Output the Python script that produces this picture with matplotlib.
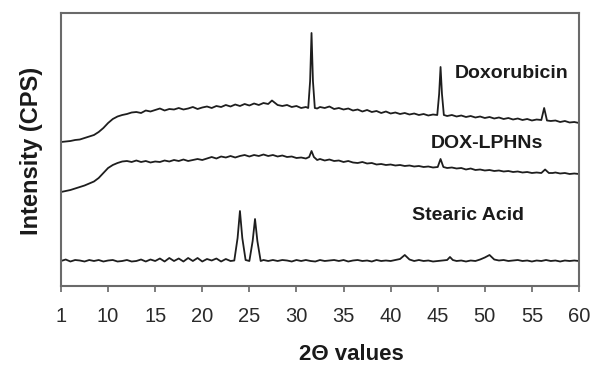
import matplotlib
matplotlib.use("Agg")
import matplotlib.pyplot as plt

# x positions (axis units; the first tick, labelled "1", sits at 5)
tick_pos = [5, 10, 15, 20, 25, 30, 35, 40, 45, 50, 55, 60]
tick_labels = ["1", "10", "15", "20", "25", "30", "35", "40", "45", "50", "55", "60"]

dox_x = [5.0, 5.5, 6.0, 6.5, 7.0, 7.5, 8.0, 8.5, 9.0, 9.5, 10.0, 10.5, 11.0, 11.5,
         12.0, 12.5, 13.0, 13.5, 14.0, 14.5, 15.0, 15.5, 16.0, 16.5, 17.0, 17.5,
         18.0, 18.5, 19.0, 19.5, 20.0, 20.5, 21.0, 21.5, 22.0, 22.5, 23.0, 23.5,
         24.0, 24.5, 25.0, 25.5, 26.0, 26.5, 27.0, 27.4, 27.8, 28.0, 28.5, 29.0,
         29.5, 30.0, 30.5, 31.0, 31.25, 31.45, 31.6, 31.75, 31.95, 32.2, 32.5, 33.0,
         33.5, 34.0, 34.5, 35.0, 35.5, 36.0, 36.5, 37.0, 37.5, 38.0, 38.5, 39.0,
         39.5, 40.0, 40.5, 41.0, 41.5, 42.0, 42.5, 43.0, 43.5, 44.0, 44.5, 44.95,
         45.15, 45.3, 45.45, 45.65, 46.0, 46.5, 47.0, 47.5, 48.0, 48.5, 49.0, 49.5,
         50.0, 50.5, 51.0, 51.5, 52.0, 52.5, 53.0, 53.5, 54.0, 54.5, 55.0, 55.5,
         56.0, 56.3, 56.6, 57.0, 57.5, 58.0, 58.5, 59.0, 59.5, 60.0]
dox_y = [144, 144.5, 145, 146, 146.5, 148, 149.5, 151, 154, 158, 163, 167, 169.5, 171,
         172, 173.5, 174, 173, 175.5, 174.5, 176, 177.5, 175.5, 177, 176.5, 178,
         176.5, 177.5, 179, 177, 178.5, 179.5, 178, 180, 179, 181, 179.5, 181.5,
         180, 182, 180.5, 182.5, 181, 183, 182, 185.5, 182.5, 181, 180, 181,
         179, 180, 178, 179, 178, 205, 253, 205, 178, 177.5, 179, 178,
         179.5, 177, 178, 176.5, 177.5, 175.5, 176.5, 174.5, 176, 174, 175, 173,
         174.5, 172.5, 173.5, 172, 173, 171.5, 172.5, 171, 172, 170.5, 171.5, 171,
         192, 219, 192, 171, 170, 171, 169.5, 170.5, 169, 170, 168.5, 169.5,
         168, 169, 167.5, 168.5, 167, 168, 166.5, 167.5, 166, 167, 165.5, 166.5,
         166, 178, 165.5, 165, 165.5, 164, 165, 163.5, 164, 163]

lphn_x = [5.0, 5.5, 6.0, 6.5, 7.0, 7.5, 8.0, 8.5, 9.0, 9.5, 10.0, 10.5, 11.0, 11.5,
          12.0, 12.5, 13.0, 13.5, 14.0, 14.5, 15.0, 15.5, 16.0, 16.5, 17.0, 17.5,
          18.0, 18.5, 19.0, 19.5, 20.0, 20.5, 21.0, 21.5, 22.0, 22.5, 23.0, 23.5,
          24.0, 24.5, 25.0, 25.5, 26.0, 26.5, 27.0, 27.5, 28.0, 28.5, 29.0, 29.5,
          30.0, 30.5, 31.0, 31.35, 31.6, 31.85, 32.2, 32.5, 33.0, 33.5, 34.0, 34.5,
          35.0, 35.5, 36.0, 36.5, 37.0, 37.5, 38.0, 38.5, 39.0, 39.5, 40.0, 40.5,
          41.0, 41.5, 42.0, 42.5, 43.0, 43.5, 44.0, 44.5, 45.0, 45.3, 45.6, 46.0,
          46.5, 47.0, 47.5, 48.0, 48.5, 49.0, 49.5, 50.0, 50.5, 51.0, 51.5, 52.0,
          52.5, 53.0, 53.5, 54.0, 54.5, 55.0, 55.5, 56.0, 56.4, 56.8, 57.2, 57.5,
          58.0, 58.5, 59.0, 59.5, 60.0]
lphn_y = [94, 95, 96, 97.5, 99, 100.5, 102.5, 104.5, 108, 113, 118, 121, 123, 124.5,
          125, 124, 125.5, 124, 125, 123.5, 124.5, 124, 125.5, 124.5, 126, 125,
          126.5, 125, 126, 127, 126, 127.5, 129, 127.5, 129.5, 128.5, 130, 128.5,
          130, 131, 129.5, 131, 130, 131.5, 130, 131, 129.5, 130.5, 129, 129.5,
          128, 128.5, 127.5, 129, 135, 129, 126, 127, 125.5, 126.5, 125, 125.5,
          124, 125, 123.5, 123, 124, 122.5, 123, 121.5, 122, 121, 121.5, 120.5,
          121, 120, 120.5, 119.5, 120, 119, 119.5, 118.5, 119, 127, 119, 118,
          118.5, 117.5, 118, 116.5, 117.5, 116, 116.5, 115.5, 116, 115, 115.5, 114.5,
          115, 114, 114.5, 113.5, 114, 113, 113.5, 113, 116.5, 113, 113, 113.5,
          112.5, 113, 112, 112.5, 112]

sa_x = [5.0, 5.5, 6.0, 6.5, 7.0, 7.5, 8.0, 8.5, 9.0, 9.5, 10.0, 10.5, 11.0, 11.5,
        12.0, 12.5, 13.0, 13.5, 14.0, 14.5, 15.0, 15.5, 16.0, 16.5, 17.0, 17.5,
        18.0, 18.5, 19.0, 19.5, 20.0, 20.5, 21.0, 21.5, 22.0, 22.5, 23.0, 23.4,
        23.75, 24.0, 24.25, 24.6, 25.0, 25.35, 25.6, 25.85, 26.2, 26.5, 27.0, 27.5,
        28.0, 28.5, 29.0, 29.5, 30.0, 30.5, 31.0, 31.5, 32.0, 32.5, 33.0, 33.5,
        34.0, 34.5, 35.0, 35.5, 36.0, 36.5, 37.0, 37.5, 38.0, 38.5, 39.0, 39.5,
        40.0, 40.5, 41.0, 41.5, 42.0, 42.5, 43.0, 43.5, 44.0, 44.5, 45.0, 45.5,
        46.0, 46.3, 46.6, 47.0, 47.5, 48.0, 48.5, 49.0, 49.5, 50.0, 50.5, 51.0,
        51.5, 52.0, 52.5, 53.0, 53.5, 54.0, 54.5, 55.0, 55.5, 56.0, 56.5, 57.0,
        57.5, 58.0, 58.5, 59.0, 59.5, 60.0]
sa_y = [25, 26.5, 24.5, 26, 25.5, 24.5, 26, 25, 26, 24.5, 25.5, 26, 24.5, 25,
        26, 24.5, 25, 26.5, 24.5, 26.5, 25, 27.5, 24.5, 28, 25, 27.5, 24.5, 28,
        25, 28, 24.5, 27, 25.5, 27.5, 24.5, 27, 25, 25.5,
        48, 75, 48, 26, 25, 45, 67, 45, 25, 26, 25, 26,
        25, 26, 25.5, 24.5, 26, 25, 26, 25, 24.5, 26, 25, 25.5,
        26, 25, 26, 24.5, 25.5, 26, 25, 25.5, 24.5, 26, 25, 25.5,
        25, 26, 27, 31, 26.5, 25, 26, 25, 25.5, 24.5, 25, 25.5,
        26, 29, 26, 25, 25.5, 24.5, 25.5, 25, 26.5, 28.5, 31, 26.5,
        25.5, 26, 25, 25.5, 26, 25, 25.5, 24.5, 25.5, 25, 26, 25,
        25.5, 24.5, 25.5, 25, 25.5, 25]

series = [(dox_x, dox_y), (lphn_x, lphn_y), (sa_x, sa_y)]
series_names = ["Doxorubicin", "DOX-LPHNs", "Stearic Acid"]
name_pos = [(52.8, 213), (50.2, 143), (48.2, 71)]

font = ["Liberation Sans", "DejaVu Sans"]
plt.rcParams["font.family"] = font

fig = plt.figure(figsize=(5.95, 3.67), dpi=100)
ax = fig.add_axes([61 / 595, 1 - 286 / 367, (579 - 61) / 595, (286 - 13) / 367])

for (xs, ys) in series:
    ax.plot(xs, ys, color="#1e1e1e", lw=1.3)

for name, (tx, ty) in zip(series_names, name_pos):
    ax.text(tx, ty, name, ha="center", va="center", fontsize=14,
            fontweight="bold", color="#1a1a1a")

ax.set_xlim(5, 60)
ax.set_ylim(0, 273)
ax.set_xticks(tick_pos)
ax.set_xticklabels(tick_labels)
ax.set_yticks([])
ax.tick_params(axis="x", direction="out", length=4, width=1.2, color="#666666",
               labelsize=14.5, labelcolor="#2a2a2a", pad=11)
for sp in ax.spines.values():
    sp.set_color("#6a6a6a")
    sp.set_linewidth(1.5)

fig.text(32 / 595, 1 - 151 / 367, "Intensity (CPS)", rotation=90, ha="center",
         va="center", fontsize=17, fontweight="bold", color="#1a1a1a")
fig.text(351 / 595, 1 - 354 / 367, "2Θ values", ha="center", va="center",
         fontsize=16, fontweight="bold", color="#1a1a1a")

fig.savefig("out.png", dpi=100)
